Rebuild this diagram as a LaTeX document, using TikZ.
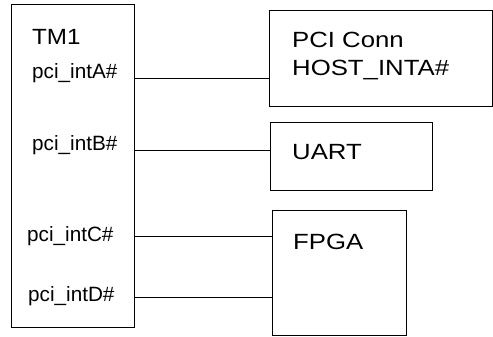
\documentclass[tikz,border=0pt]{standalone}
\usepackage{fontspec}
\setmainfont{Liberation Sans}
\newfontfamily\tmfont[FakeStretch=1.1]{Liberation Sans}
\newfontfamily\widefont[FakeStretch=1.17]{Liberation Sans}
\begin{document}
\begin{tikzpicture}[x=1pt,y=1pt,
  box/.style={draw=black, line width=1pt, fill=none, inner sep=0pt, minimum width=#1},
  pin/.style={anchor=base west, inner sep=0pt, font=\fontsize{20.7}{24}\selectfont},
  blabel/.style={anchor=base west, inner sep=0pt, font=\widefont\fontsize{22}{26}\selectfont},
  wire/.style={draw=black, line width=1pt}]
\useasboundingbox (0,0) rectangle (493,337);
% boxes
\node[box=123pt, minimum height=323pt] (tm1) at (72.5,170.5) {};
\node[box=223pt, minimum height=96pt] (pci) at (380.5,278) {};
\node[box=162pt, minimum height=68pt] (uart) at (351,180) {};
\node[box=134pt, minimum height=125pt] (fpga) at (339,63.5) {};
% texts
\node[anchor=base west, inner sep=0pt, font=\tmfont\fontsize{22}{26}\selectfont] (tmt) at (32,292) {TM1};
\node[pin] (la) at (32,258) {pci\_intA\#};
\node[pin] (lb) at (32,186) {pci\_intB\#};
\node[pin] (lc) at (27,95.5) {pci\_intC\#};
\node[pin] (ld) at (28,35.5) {pci\_intD\#};
\node[blabel] (pcit) at (292,289) {PCI Conn};
\node[blabel] (hostt) at (292,261) {HOST\_INTA\#};
\node[blabel] (uartt) at (292,177) {UART};
\node[blabel] (fpgat) at (293,87) {FPGA};
% wire levels
\coordinate (ya) at (0,258);
\coordinate (yb) at (0,186);
\coordinate (yc) at (0,100);
\coordinate (yd) at (0,39);
% connectors
\draw[wire] (tm1.east |- ya) -- (pci.west |- ya);
\draw[wire] (tm1.east |- yb) -- (uart.west |- yb);
\draw[wire] (tm1.east |- yc) -- (fpga.west |- yc);
\draw[wire] (tm1.east |- yd) -- (fpga.west |- yd);
\end{tikzpicture}
\end{document}
